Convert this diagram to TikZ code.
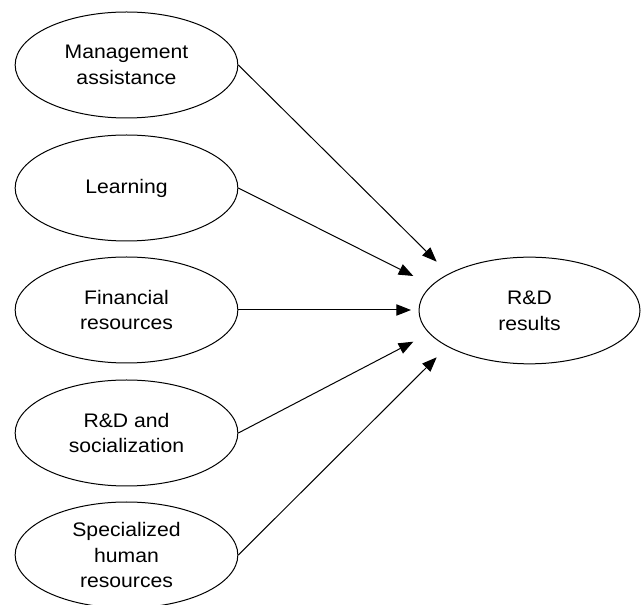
\documentclass[tikz,border=0pt]{standalone}
\usepackage{fontspec}
\setmainfont[FakeStretch=1.08]{Liberation Sans}
\usetikzlibrary{shapes.geometric,arrows.meta}
\begin{document}
\begin{tikzpicture}[x=0.75pt,y=-0.75pt,
  factor/.style={ellipse,draw,line width=0.75pt,inner sep=0pt,
    minimum width=167pt,minimum height=79.5pt,align=center,
    font=\fontsize{14.7pt}{19.3pt}\selectfont},
  link/.style={line width=0.75pt,-{Triangle[length=11pt,width=8.5pt]}}]
\useasboundingbox (0,0) rectangle (643,605);
% explanatory factors on the left
\node[factor] (ma) at (126.5,65) {Management\\assistance};
\node[factor] (le) at (126.5,188) {Learning};
\node[factor] (fr) at (126.5,310) {Financial\\resources};
\node[factor] (rs) at (126.5,433) {R\&D and\\socialization};
\node[factor] (sh) at (126.5,555) {Specialized\\human\\resources};
% outcome on the right
\node[factor,minimum width=165.75pt,minimum height=80pt] (rr) at (529.5,310.5) {R\&D\\results};
% arrow tips stop short of the outcome ellipse
\coordinate (t1) at (436.7,261.7);
\coordinate (t2) at (413.3,276);
\coordinate (t3) at (411,310);
\coordinate (t4) at (413.3,341.7);
\coordinate (t5) at (436.7,357.3);
\draw[link] (ma.east) -- (t1);
\draw[link] (le.east) -- (t2);
\draw[link] (fr.east) -- (t3);
\draw[link] (rs.east) -- (t4);
\draw[link] (sh.east) -- (t5);
\end{tikzpicture}
\end{document}
